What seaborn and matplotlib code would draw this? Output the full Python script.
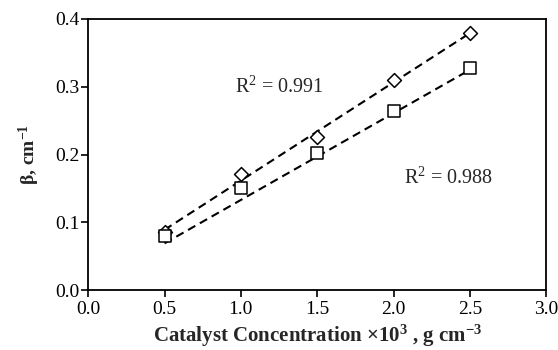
import matplotlib
matplotlib.use("Agg")
import matplotlib.pyplot as plt
import seaborn as sns
import pandas as pd

# Data
conc = [0.5, 1.0, 1.5, 2.0, 2.5]
beta_diamond = [0.086, 0.171, 0.226, 0.310, 0.379]
beta_square = [0.080, 0.151, 0.202, 0.264, 0.328]
trend_x = [0.5, 2.5]
trend_diamond = [0.089, 0.379]
trend_square = [0.069, 0.325]
x_ticks = [0.0, 0.5, 1.0, 1.5, 2.0, 2.5, 3.0]
y_ticks = [0.0, 0.1, 0.2, 0.3, 0.4]
r2_labels = ["R$^2$ = 0.991", "R$^2$ = 0.988"]

sns.set_theme(style="ticks")
plt.rcParams['font.family'] = ['Liberation Serif', 'DejaVu Serif']
plt.rcParams['mathtext.fontset'] = 'custom'
plt.rcParams['mathtext.rm'] = 'Liberation Serif'
plt.rcParams['mathtext.it'] = 'Liberation Serif:italic'
plt.rcParams['mathtext.bf'] = 'Liberation Serif:bold'

fig = plt.figure(figsize=(5.58, 3.5), dpi=100)
ax = fig.add_axes([0.158, 0.171, 0.821, 0.775])

df_pts = pd.DataFrame({"x": conc, "d": beta_diamond, "s": beta_square})
df_tr = pd.DataFrame({"x": trend_x, "d": trend_diamond, "s": trend_square})

for col in ["d", "s"]:
    sns.lineplot(data=df_tr, x="x", y=col, ax=ax, color="black", lw=1.5,
                 dashes=False, zorder=2)
for line in ax.get_lines():
    line.set_dashes((4, 2.5))

sns.scatterplot(data=df_pts, x="x", y="d", ax=ax, marker="D", s=50,
                facecolor="white", edgecolor="black", linewidth=1.1, zorder=3)
sns.scatterplot(data=df_pts, x="x", y="s", ax=ax, marker="s", s=72,
                facecolor="white", edgecolor="black", linewidth=1.1, zorder=4)

ax.set_xlim(0, 3.0)
ax.set_ylim(0, 0.4)
ax.set_xticks(x_ticks)
ax.set_yticks(y_ticks)
ax.set_xticklabels([f"{v:.1f}" for v in x_ticks])
ax.set_yticklabels([f"{v:.1f}" for v in y_ticks])
ax.tick_params(direction="out", length=5, width=1.2, labelsize=14,
               colors="black")
ax.tick_params(axis="x", pad=3)
ax.tick_params(axis="y", pad=1)
for sp in ax.spines.values():
    sp.set_visible(True)
    sp.set_linewidth(1.3)
    sp.set_color("black")

ax.text(0.96, 0.30, r2_labels[0], fontsize=14.5, va="center", ha="left")
ax.text(2.07, 0.165, r2_labels[1], fontsize=14.5, va="center", ha="left")

ax.set_xlabel(r"Catalyst Concentration ×10$^{\mathbf{3}}$ , g cm$^{\mathbf{-3}}$",
              fontsize=15, fontweight="bold", labelpad=3)
ax.set_ylabel(r"β, cm$^{\mathbf{-1}}$", fontsize=14, fontweight="bold", labelpad=10)

fig.savefig("out.png", dpi=100)
